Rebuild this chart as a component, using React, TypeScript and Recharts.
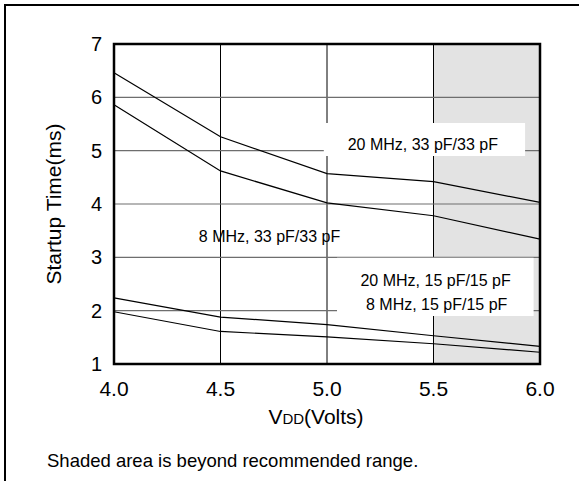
import React from "react";
import {
  LineChart,
  Line,
  XAxis,
  YAxis,
  CartesianGrid,
  ReferenceArea,
  ReferenceDot,
} from "recharts";

// supply voltage (V)
const vdd = [4.0, 4.5, 5.0, 5.5, 6.0];
// startup time (ms) per crystal / load cap setup
const mhz20pf33 = [6.46, 5.26, 4.57, 4.42, 4.03];
const mhz8pf33 = [5.86, 4.62, 4.02, 3.78, 3.34];
const mhz20pf15 = [2.24, 1.88, 1.74, 1.53, 1.33];
const mhz8pf15 = [1.98, 1.61, 1.51, 1.38, 1.22];

const yTicks = [1, 2, 3, 4, 5, 6, 7];

const notes = [
  { text: "20 MHz, 33 pF/33 pF", x: 5.45, y: 5.11 },
  { text: "8 MHz, 33 pF/33 pF", x: 4.73, y: 3.4 },
  { text: "20 MHz, 15 pF/15 pF", x: 5.51, y: 2.56 },
  { text: "8 MHz, 15 pF/15 pF", x: 5.515, y: 2.12 },
];

const FONT = "'Liberation Sans', Arial, sans-serif";

const data = vdd.map((v, i) => ({
  vdd: v,
  a: mhz20pf33[i],
  b: mhz8pf33[i],
  c: mhz20pf15[i],
  d: mhz8pf15[i],
}));

function XTitle(props: any) {
  const vb = props.viewBox;
  return (
    <text
      x={vb.x + vb.width / 2 - 11}
      y={vb.y + 60}
      textAnchor="middle"
      fontSize={21}
      fontFamily={FONT}
      fill="#000"
    >
      V<tspan fontSize={15}>DD</tspan>(Volts)
    </text>
  );
}

export default function App() {
  return (
    <div style={{ position: "absolute", left: 0, top: 0, width: 579, height: 481, overflow: "hidden", background: "#fff" }}>
      <svg width={579} height={481} style={{ position: "absolute", left: 0, top: 0 }}>
        <rect x={5} y={5} width={700} height={700} fill="none" stroke="#000" strokeWidth={2} />
        <text x={47} y={467} fontSize={18.5} fontFamily={FONT} fill="#000">
          Shaded area is beyond recommended range.
        </text>
      </svg>
      <div style={{ position: "absolute", left: 0, top: 0 }}>
        <LineChart
          width={579}
          height={481}
          data={data}
          margin={{ top: 44, right: 39, bottom: 57, left: 54 }}
        >
          <CartesianGrid
            horizontal={false}
            stroke="#000"
            strokeWidth={1}
            verticalFill={["none", "none", "none", "#e3e3e3"]}
            fillOpacity={1}
          />
          <CartesianGrid vertical={false} stroke="#6e6e6e" strokeWidth={1.2} />
          <XAxis
            dataKey="vdd"
            type="number"
            domain={[4, 6]}
            ticks={vdd}
            tickFormatter={(v: number) => v.toFixed(1)}
            height={60}
            interval={0}
            tickLine={false}
            axisLine={false}
            tickSize={0}
            tickMargin={17}
            tick={{ fill: "#000", fontSize: 21, fontFamily: FONT }}
            label={<XTitle />}
          />
          <YAxis
            type="number"
            domain={[1, 7]}
            ticks={yTicks}
            width={60}
            interval={0}
            tickLine={false}
            axisLine={false}
            tickSize={0}
            tickMargin={12}
            tick={{ fill: "#000", fontSize: 20, fontFamily: FONT }}
            label={{
              value: "Startup Time(ms)",
              angle: -90,
              position: "insideLeft",
              offset: 0,
              fill: "#000",
              fontSize: 21,
              fontFamily: FONT,
              style: { textAnchor: "middle" },
            }}
          />
          <ReferenceArea x1={4.985} x2={5.93} y1={4.9} y2={5.52} fill="#fff" fillOpacity={1} stroke="none" />
          <ReferenceArea x1={5.047} x2={5.97} y1={1.9} y2={2.99} fill="#fff" fillOpacity={1} stroke="none" />
          <Line dataKey="a" type="linear" stroke="#000" strokeWidth={1.2} dot={false} isAnimationActive={false} />
          <Line dataKey="b" type="linear" stroke="#000" strokeWidth={1.2} dot={false} isAnimationActive={false} />
          <Line dataKey="c" type="linear" stroke="#000" strokeWidth={1.2} dot={false} isAnimationActive={false} />
          <Line dataKey="d" type="linear" stroke="#000" strokeWidth={1.2} dot={false} isAnimationActive={false} />
          {notes.map((n) => (
            <ReferenceDot
              key={n.text}
              x={n.x}
              y={n.y}
              r={0}
              fill="none"
              stroke="none"
              label={{ value: n.text, position: "center", fontSize: 16, fontFamily: FONT, fill: "#000" }}
            />
          ))}
          <ReferenceArea x1={4} x2={6} y1={1} y2={7} fill="none" stroke="#000" strokeWidth={2.5} />
        </LineChart>
      </div>
    </div>
  );
}
